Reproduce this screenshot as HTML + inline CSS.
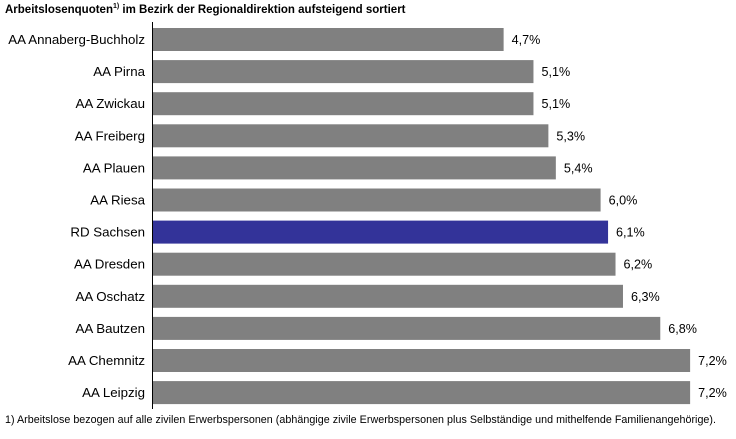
<!DOCTYPE html><html><head><style>
body{margin:0;background:#fff;width:736px;height:434px;overflow:hidden;font-family:"Liberation Sans",sans-serif}
</style></head><body>
<svg width="736" height="434" xmlns="http://www.w3.org/2000/svg" font-family="Liberation Sans, sans-serif">
<text x="5" y="13" font-size="11.5" font-weight="bold" fill="#000">Arbeitslosenquoten<tspan font-size="7" dy="-5">1)</tspan><tspan dy="5"> im Bezirk der Regionaldirektion aufsteigend sortiert</tspan></text>
<line x1="152.5" y1="22" x2="152.5" y2="409" stroke="#000" stroke-width="1"/>
<text x="5" y="423" font-size="10.7" fill="#000" textLength="711">1) Arbeitslose bezogen auf alle zivilen Erwerbspersonen (abhängige zivile Erwerbspersonen plus Selbständige und mithelfende Familienangehörige).</text>
<g id="bars"></g>
<script>
var d=[["AA Annaberg-Buchholz",4.7],["AA Pirna",5.1],["AA Zwickau",5.1],["AA Freiberg",5.3],["AA Plauen",5.4],["AA Riesa",6.0],["RD Sachsen",6.1],["AA Dresden",6.2],["AA Oschatz",6.3],["AA Bautzen",6.8],["AA Chemnitz",7.2],["AA Leipzig",7.2]];
var ns="http://www.w3.org/2000/svg",g=document.getElementById("bars");
d.forEach(function(e,i){var y=28+i*32.1,w=e[1]*74.6;
var r=document.createElementNS(ns,"rect");r.setAttribute("x",153);r.setAttribute("y",y);r.setAttribute("width",w);r.setAttribute("height",23);r.setAttribute("fill",i==6?"#333399":"#808080");g.appendChild(r);
var t=document.createElementNS(ns,"text");t.setAttribute("x",145);t.setAttribute("y",y+16);t.setAttribute("text-anchor","end");t.setAttribute("font-size","13.3");t.textContent=e[0];g.appendChild(t);
var v=document.createElementNS(ns,"text");v.setAttribute("x",153+w+8);v.setAttribute("y",y+16);v.setAttribute("font-size","12.6");v.textContent=e[1].toFixed(1).replace(".",",")+"%";g.appendChild(v);});
</script>
</svg>
</body></html>
